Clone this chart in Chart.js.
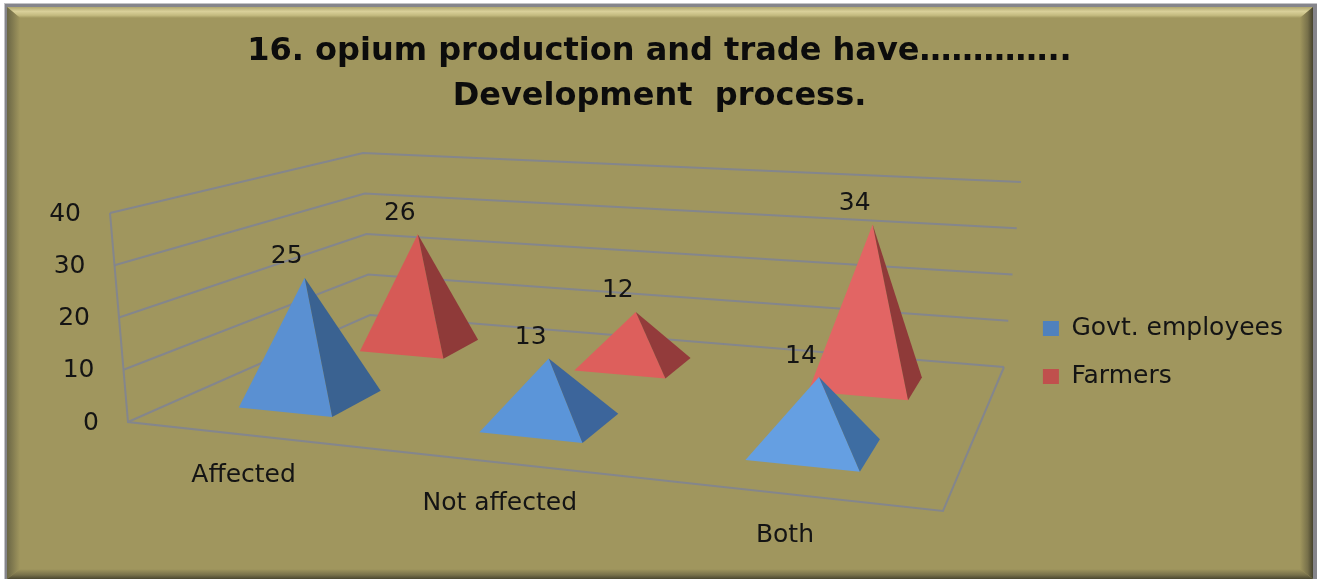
<!DOCTYPE html>
<html>
<head>
<meta charset="utf-8">
<title>Opium production and trade</title>
<style>
  html, body { margin: 0; padding: 0; background: #fff; }
  #wrap { width: 1317px; height: 579px; }
</style>
<script src="https://cdn.jsdelivr.net/npm/chart.js@4/dist/chart.umd.min.js"></script>
</head>
<body>
<div id="wrap"><canvas id="chart" width="1317" height="579"></canvas></div>
<script>
var categories = ['Affected', 'Not affected', 'Both'];
var seriesNames = ['Govt. employees', 'Farmers'];
var govtEmployees = [25, 13, 14];
var farmers = [26, 12, 34];
var yMax = 40;
var yStep = 10;
var titleLines = ['16. opium production and trade have…………..', 'Development  process.'];

var legendColors = ['#4F81BD', '#C0504D'];
var frontFaces = [['#5A90D2', '#5B95D9', '#659FE2'], ['#D65A56', '#DD5F5C', '#E26564']];
var sideFaces = [['#3A6291', '#3C659B', '#3E6DA2'], ['#8F3A39', '#933B3B', '#8F3A39']];
var gridColor = '#84868C';
var fontName = '"DejaVu Sans", sans-serif';

// 3d box as seen on screen: front left, front right, back right, back left
var floorBox = [[128, 422], [943, 511], [1004, 367], [370, 315]];
var roofBox = [[110, 213], [958, 278], [1021, 182], [363, 153]];
var depthSlots = [0.262, 0.751];
var depthHalf = [0.103, 0.096];
var slotShift = [-0.007, -0.002];
var peakNudge = [8, 3];

function makeHomography(q) {
    var dx1 = q[1][0] - q[2][0], dx2 = q[3][0] - q[2][0], sx = q[0][0] - q[1][0] + q[2][0] - q[3][0];
    var dy1 = q[1][1] - q[2][1], dy2 = q[3][1] - q[2][1], sy = q[0][1] - q[1][1] + q[2][1] - q[3][1];
    var den = dx1 * dy2 - dx2 * dy1;
    var g = (sx * dy2 - dx2 * sy) / den;
    var h = (dx1 * sy - sx * dy1) / den;
    var a = q[1][0] - q[0][0] + g * q[1][0], b = q[3][0] - q[0][0] + h * q[3][0];
    var d = q[1][1] - q[0][1] + g * q[1][1], e = q[3][1] - q[0][1] + h * q[3][1];
    return function (u, v) {
        var w = g * u + h * v + 1;
        return [(a * u + b * v + q[0][0]) / w, (d * u + e * v + q[0][1]) / w];
    };
}

var floorMap = makeHomography(floorBox);
var roofMap = makeHomography(roofBox);

// u along categories, d into the depth, t up the value axis (all 0..1)
function project(u, d, t) {
    var f = floorMap(u, d), r = roofMap(u, d);
    return [f[0] + (r[0] - f[0]) * t, f[1] + (r[1] - f[1]) * t];
}

function bevel(ctx, pts, x0, y0, x1, y1, stops) {
    var grad = ctx.createLinearGradient(x0, y0, x1, y1);
    stops.forEach(function (s) { grad.addColorStop(s[0], s[1]); });
    ctx.fillStyle = grad;
    ctx.beginPath();
    pts.forEach(function (p, i) { i ? ctx.lineTo(p[0], p[1]) : ctx.moveTo(p[0], p[1]); });
    ctx.closePath();
    ctx.fill();
}

var framePlugin = {
    id: 'frame',
    beforeDraw: function (chart) {
        var ctx = chart.ctx;
        var L = 7, T = 7, R = 1313, B = 579, s = 13;
        ctx.save();
        ctx.fillStyle = '#C4C4C6';
        ctx.fillRect(4, 3, 1313, 576);
        ctx.fillStyle = '#85858B';
        ctx.fillRect(5, 4, 1312, 575);
        ctx.fillStyle = '#A0965E';
        ctx.fillRect(L, T, R - L, B - T);
        bevel(ctx, [[L, T], [R, T], [R - s, T + 11], [L + s, T + 11]], 0, T, 0, T + 11,
            [[0, '#B0A76E'], [0.4, '#D9D09A'], [0.75, '#C4BB80'], [1, '#A0965E']]);
        bevel(ctx, [[L, T], [L + s, T + 11], [L + s, B - 10], [L, B]], L, 0, L + s, 0,
            [[0, '#6A6645'], [1, '#A0965E']]);
        bevel(ctx, [[R, T], [R - s, T + 11], [R - s, B - 10], [R, B]], R - s, 0, R, 0,
            [[0, '#A0965E'], [0.6, '#77704A'], [1, '#45422C']]);
        bevel(ctx, [[L, B], [L + s, B - 10], [R - s, B - 10], [R, B]], 0, B - 10, 0, B,
            [[0, '#A0965E'], [0.6, '#77704A'], [1, '#4A4730']]);
        ctx.restore();
    }
};

var pyramidPlugin = {
    id: 'pyramids',
    beforeDatasetsDraw: function (chart) {
        var ctx = chart.ctx, area = chart.chartArea;
        var xScale = chart.scales.x, yScale = chart.scales.y;
        var span = area.right - area.left, tall = area.bottom - area.top;

        function line(pts) {
            ctx.beginPath();
            pts.forEach(function (p, i) { i ? ctx.lineTo(p[0], p[1]) : ctx.moveTo(p[0], p[1]); });
            ctx.stroke();
        }
        function face(pts, color) {
            ctx.fillStyle = color;
            ctx.beginPath();
            pts.forEach(function (p, i) { i ? ctx.lineTo(p[0], p[1]) : ctx.moveTo(p[0], p[1]); });
            ctx.closePath();
            ctx.fill();
        }

        ctx.save();

        // walls, floor
        ctx.strokeStyle = gridColor;
        ctx.lineWidth = 2;
        ctx.lineJoin = 'miter';
        line([project(0, 0, 1), project(0, 0, 0), project(1, 0, 0), project(1, 1, 0)]);
        ctx.fillStyle = '#141414';
        ctx.font = '25px ' + fontName;
        ctx.textBaseline = 'middle';
        yScale.ticks.forEach(function (tick) {
            var t = (yScale.bottom - yScale.getPixelForValue(tick.value)) / tall;
            line([project(0, 0, t), project(0, 1, t), project(1, 1, t)]);
            var p = project(0, 0, t);
            ctx.textAlign = 'right';
            ctx.fillText(tick.label, p[0] - 29, p[1] + 1);
        });

        // category labels sit under the front edge
        ctx.textAlign = 'center';
        chart.getDatasetMeta(0).data.forEach(function (bar, i) {
            var p = project((bar.x - area.left) / span, 0, 0);
            ctx.fillText(xScale.getLabelForValue(i), p[0] - 3, p[1] + 41);
        });

        // back series first so the front one overlaps it
        for (var s = chart.data.datasets.length - 1; s >= 0; s--) {
            chart.getDatasetMeta(s).data.forEach(function (bar, i) {
                var u = (bar.x - area.left) / span + slotShift[s];
                var w = bar.width / 2 / span;
                var d = depthSlots[s], h = depthHalf[s];
                var t = (bar.base - bar.y) / tall;
                var fl = project(u - w, d - h, 0), fr = project(u + w, d - h, 0);
                var br = project(u + w, d + h, 0);
                var apex = project(u, d, t);
                apex = [apex[0] + peakNudge[0], apex[1] + peakNudge[1]];
                face([fl, fr, apex], frontFaces[s][i]);
                face([fr, br, apex], sideFaces[s][i]);
                ctx.fillStyle = '#141414';
                ctx.fillText(String(chart.data.datasets[s].data[i]), apex[0] - 18, apex[1] - 21);
            });
        }
        ctx.restore();
        return false;
    }
};

new Chart(document.getElementById('chart').getContext('2d'), {
    type: 'bar',
    data: {
        labels: categories,
        datasets: [
            { label: seriesNames[0], data: govtEmployees, backgroundColor: legendColors[0], grouped: false },
            { label: seriesNames[1], data: farmers, backgroundColor: legendColors[1], grouped: false }
        ]
    },
    options: {
        responsive: false,
        animation: false,
        barPercentage: 0.40,
        categoryPercentage: 1,
        layout: { padding: { top: 24, right: 24, bottom: 167, left: 26 } },
        scales: {
            x: { display: false },
            y: { display: false, min: 0, max: yMax, ticks: { stepSize: yStep } }
        },
        plugins: {
            title: {
                display: true,
                text: titleLines,
                color: '#0c0c0c',
                font: { family: fontName, size: 32, weight: 'bold', lineHeight: 1.38 },
                padding: { top: 6, bottom: 10 }
            },
            legend: {
                display: true,
                position: 'right',
                align: 'end',
                labels: {
                    boxWidth: 16,
                    boxHeight: 15,
                    padding: 23,
                    color: '#141414',
                    font: { family: fontName, size: 25 }
                }
            },
            tooltip: { enabled: false }
        }
    },
    plugins: [framePlugin, pyramidPlugin]
});
</script>
</body>
</html>
